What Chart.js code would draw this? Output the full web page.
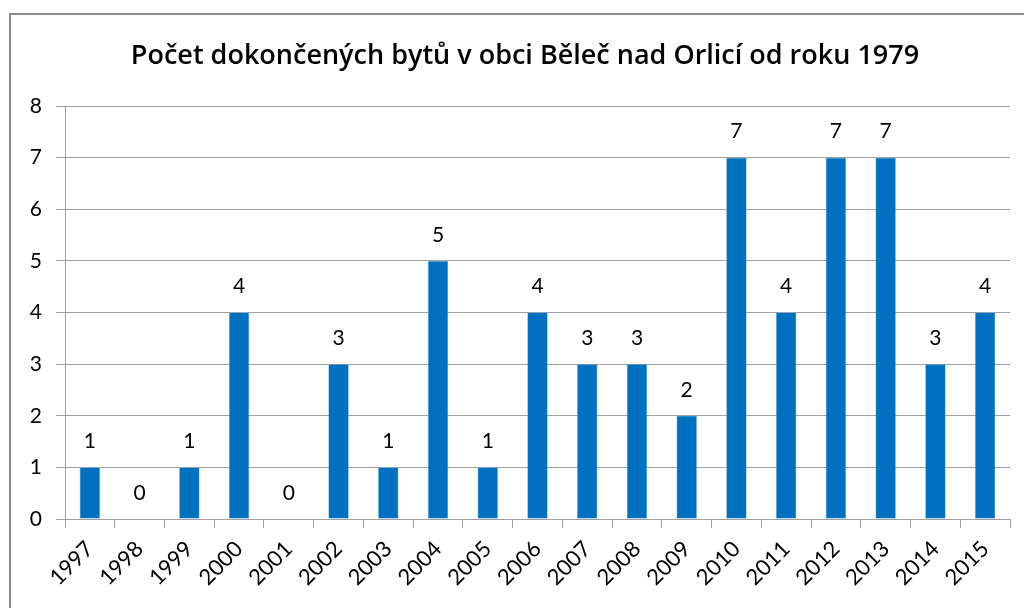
<!DOCTYPE html>
<html>
<head>
<meta charset="utf-8">
<script src="https://cdn.jsdelivr.net/npm/chart.js@4"></script>
<style>
  html, body { margin: 0; padding: 0; background: #fff; }
  #wrap { position: relative; width: 1024px; height: 608px; overflow: hidden; }
  #frame { position: absolute; left: 9px; top: 13px; width: 1040px; height: 620px; border: 2px solid #8c8c8c; box-sizing: border-box; }
  canvas { position: absolute; left: 0; top: 0; }
</style>
</head>
<body>
<div id="wrap">
  <div id="frame"></div>
  <canvas id="chart" width="1024" height="608"></canvas>
</div>
<script>
const TITLE = 'Počet dokončených bytů v obci Běleč nad Orlicí od roku 1979';
const years = ['1997', '1998', '1999', '2000', '2001', '2002', '2003', '2004', '2005', '2006',
  '2007', '2008', '2009', '2010', '2011', '2012', '2013', '2014', '2015'];
const flats = [1, 0, 1, 4, 0, 3, 1, 5, 1, 4, 3, 3, 2, 7, 4, 7, 7, 3, 4];

const FONT = 'Lato, "Open Sans", sans-serif';

// title + value labels drawn by hand, Excel style
const extras = {
  id: 'extras',
  afterDatasetsDraw(chart) {
    const { ctx } = chart;
    ctx.save();
    ctx.fillStyle = '#000';
    ctx.font = '600 27px "Open Sans", sans-serif';
    ctx.textAlign = 'center';
    ctx.textBaseline = 'alphabetic';
    ctx.fillText(TITLE, 525, 64);

    ctx.font = '21px ' + FONT;
    ctx.textBaseline = 'middle';
    chart.getDatasetMeta(0).data.forEach((bar, i) => {
      ctx.fillText(String(flats[i]), bar.x, bar.y - 26);
    });
    ctx.restore();
  },
};

new Chart(document.getElementById('chart'), {
  type: 'bar',
  data: {
    labels: years,
    datasets: [{
      data: flats,
      backgroundColor: '#0070C0',
      borderColor: '#5fa8dc',
      borderWidth: 0.6,
      categoryPercentage: 1,
      barPercentage: 0.41,
    }],
  },
  options: {
    responsive: false,
    animation: false,
    layout: { padding: { left: 0, right: 14, top: 106, bottom: 0 } },
    plugins: { legend: { display: false }, tooltip: { enabled: false } },
    scales: {
      x: {
        offset: true,
        afterFit: (s) => { s.height = 89; },
        grid: { offset: true, drawOnChartArea: false, drawTicks: true, tickLength: 9, color: '#a0a0a0' },
        border: { color: '#a0a0a0' },
        ticks: { color: '#000', font: { family: FONT, size: 22 }, minRotation: 45, maxRotation: 45, padding: 8 },
      },
      y: {
        min: 0,
        max: 8,
        afterFit: (s) => { s.width = 65; },
        grid: { color: '#a0a0a0', tickLength: 9 },
        border: { color: '#a0a0a0' },
        ticks: { stepSize: 1, color: '#000', font: { family: FONT, size: 21 }, padding: 14 },
      },
    },
  },
  plugins: [extras],
});
</script>
</body>
</html>
